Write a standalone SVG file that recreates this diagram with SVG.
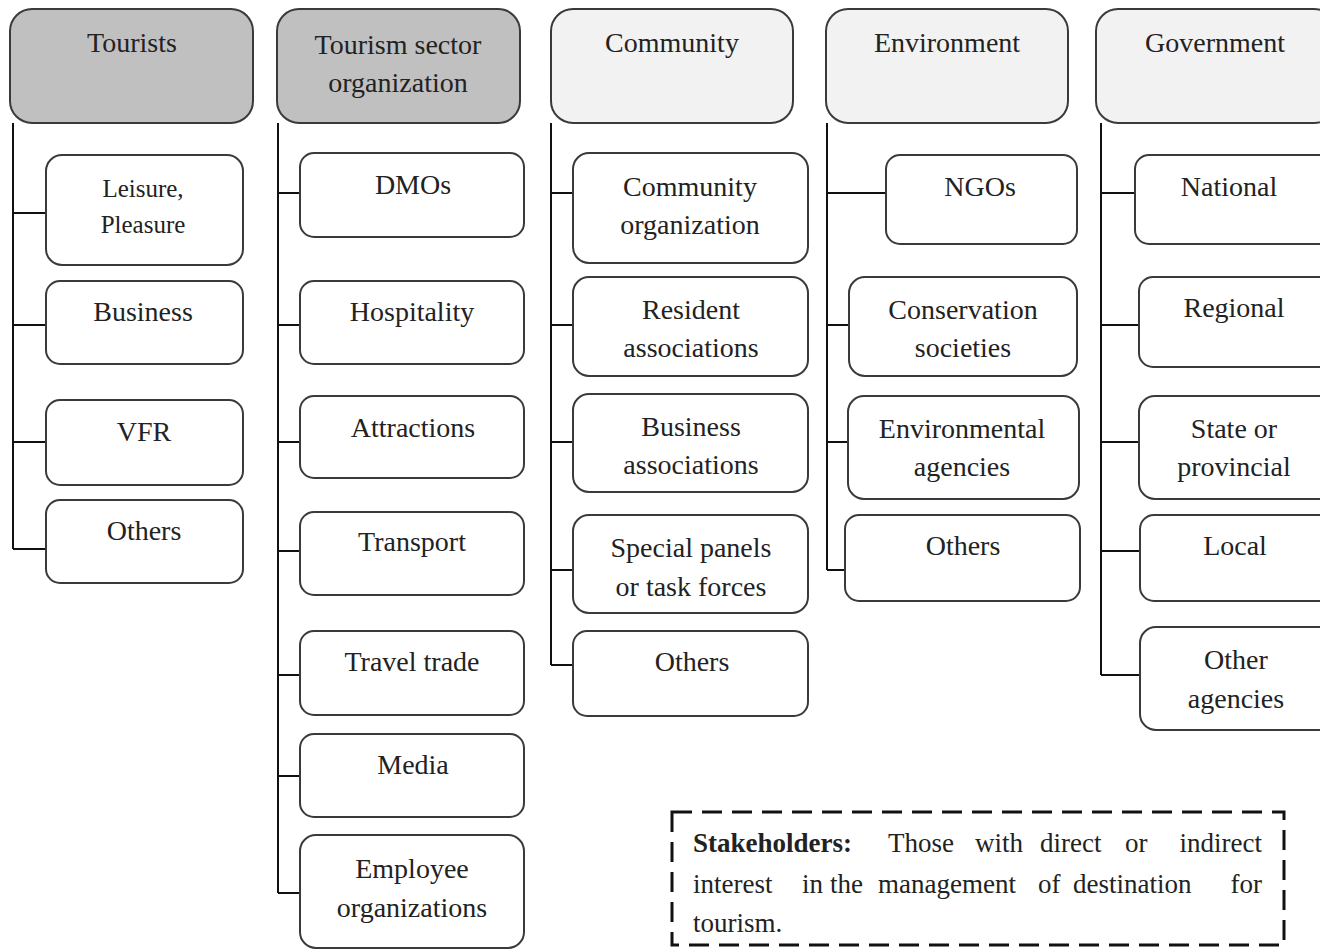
<svg xmlns="http://www.w3.org/2000/svg" width="1320" height="951" viewBox="0 0 1320 951">
<style>
.hd1{fill:#c0c0c0;stroke:#3a3a3a;stroke-width:2}
.hd2{fill:#f2f2f2;stroke:#3a3a3a;stroke-width:2}
.bx{fill:#ffffff;stroke:#3a3a3a;stroke-width:2}
.t{font-family:'Liberation Serif','Times New Roman',serif;font-size:28px;fill:#222;text-anchor:middle}
.ts{font-size:25px}
.lg{font-family:'Liberation Serif','Times New Roman',serif;font-size:27px;fill:#222}
.cn{fill:none;stroke:#111;stroke-width:2}
</style>
<rect x="0" y="0" width="1320" height="951" fill="#ffffff"/>
<g id="connectors" class="cn">
<path d="M13,123 V549 M13,213 H46 M13,325 H46 M13,442 H46 M13,549 H46"/>
<path d="M278,123 V893 M278,193 H300 M278,325 H300 M278,442 H300 M278,551 H300 M278,675 H300 M278,776 H300 M278,893 H300"/>
<path d="M551,123 V665 M551,193 H573 M551,325 H573 M551,442 H573 M551,570 H573 M551,665 H573"/>
<path d="M827,123 V570 M827,193 H886 M827,325 H849 M827,442 H848 M827,570 H845"/>
<path d="M1101,123 V675 M1101,193 H1135 M1101,325 H1139 M1101,442 H1139 M1101,551 H1140 M1101,675 H1140"/>
</g>
<g id="n-tourists"><rect class="hd1" x="10" y="9" width="243" height="114" rx="22"/><text class="t" x="132" y="52">Tourists</text></g>
<g id="n-tso"><rect class="hd1" x="277" y="9" width="243" height="114" rx="22"/><text class="t" x="398" y="54">Tourism sector</text><text class="t" x="398" y="92">organization</text></g>
<g id="n-community"><rect class="hd2" x="551" y="9" width="242" height="114" rx="22"/><text class="t" x="672" y="52">Community</text></g>
<g id="n-environment"><rect class="hd2" x="826" y="9" width="242" height="114" rx="22"/><text class="t" x="947" y="52">Environment</text></g>
<g id="n-government"><rect class="hd2" x="1096" y="9" width="240" height="114" rx="22"/><text class="t" x="1215" y="52">Government</text></g>

<g id="n-leisure"><rect class="bx" x="46" y="155" width="197" height="110" rx="16"/><text class="t ts" x="143" y="197">Leisure,</text><text class="t ts" x="143" y="233">Pleasure</text></g>
<g id="n-business"><rect class="bx" x="46" y="281" width="197" height="83" rx="14"/><text class="t" x="143" y="321">Business</text></g>
<g id="n-vfr"><rect class="bx" x="46" y="400" width="197" height="85" rx="14"/><text class="t" x="144" y="441">VFR</text></g>
<g id="n-t-others"><rect class="bx" x="46" y="500" width="197" height="83" rx="14"/><text class="t" x="144" y="540">Others</text></g>

<g id="n-dmos"><rect class="bx" x="300" y="153" width="224" height="84" rx="14"/><text class="t" x="413" y="194">DMOs</text></g>
<g id="n-hospitality"><rect class="bx" x="300" y="281" width="224" height="83" rx="14"/><text class="t" x="412" y="321">Hospitality</text></g>
<g id="n-attractions"><rect class="bx" x="300" y="396" width="224" height="82" rx="14"/><text class="t" x="413" y="437">Attractions</text></g>
<g id="n-transport"><rect class="bx" x="300" y="512" width="224" height="83" rx="14"/><text class="t" x="412" y="551">Transport</text></g>
<g id="n-traveltrade"><rect class="bx" x="300" y="631" width="224" height="84" rx="14"/><text class="t" x="412" y="671">Travel trade</text></g>
<g id="n-media"><rect class="bx" x="300" y="734" width="224" height="83" rx="14"/><text class="t" x="413" y="774">Media</text></g>
<g id="n-employee"><rect class="bx" x="300" y="835" width="224" height="113" rx="16"/><text class="t" x="412" y="878">Employee</text><text class="t" x="412" y="917">organizations</text></g>

<g id="n-commorg"><rect class="bx" x="573" y="153" width="235" height="110" rx="16"/><text class="t" x="690" y="196">Community</text><text class="t" x="690" y="234">organization</text></g>
<g id="n-resident"><rect class="bx" x="573" y="277" width="235" height="99" rx="16"/><text class="t" x="691" y="319">Resident</text><text class="t" x="691" y="357">associations</text></g>
<g id="n-busassoc"><rect class="bx" x="573" y="394" width="235" height="98" rx="16"/><text class="t" x="691" y="436">Business</text><text class="t" x="691" y="474">associations</text></g>
<g id="n-special"><rect class="bx" x="573" y="515" width="235" height="98" rx="16"/><text class="t" x="691" y="557">Special panels</text><text class="t" x="691" y="596">or task forces</text></g>
<g id="n-c-others"><rect class="bx" x="573" y="631" width="235" height="85" rx="14"/><text class="t" x="692" y="671">Others</text></g>

<g id="n-ngos"><rect class="bx" x="886" y="155" width="191" height="89" rx="14"/><text class="t" x="980" y="196">NGOs</text></g>
<g id="n-conservation"><rect class="bx" x="849" y="277" width="228" height="99" rx="16"/><text class="t" x="963" y="319">Conservation</text><text class="t" x="963" y="357">societies</text></g>
<g id="n-envagencies"><rect class="bx" x="848" y="396" width="231" height="103" rx="16"/><text class="t" x="962" y="438">Environmental</text><text class="t" x="962" y="476">agencies</text></g>
<g id="n-e-others"><rect class="bx" x="845" y="515" width="235" height="86" rx="14"/><text class="t" x="963" y="555">Others</text></g>

<g id="n-national"><rect class="bx" x="1135" y="155" width="200" height="89" rx="14"/><text class="t" x="1229" y="196">National</text></g>
<g id="n-regional"><rect class="bx" x="1139" y="277" width="196" height="90" rx="14"/><text class="t" x="1234" y="317">Regional</text></g>
<g id="n-state"><rect class="bx" x="1139" y="396" width="196" height="103" rx="16"/><text class="t" x="1234" y="438">State or</text><text class="t" x="1234" y="476">provincial</text></g>
<g id="n-local"><rect class="bx" x="1140" y="515" width="195" height="86" rx="14"/><text class="t" x="1235" y="555">Local</text></g>
<g id="n-otheragencies"><rect class="bx" x="1140" y="627" width="195" height="103" rx="16"/><text class="t" x="1236" y="669">Other</text><text class="t" x="1236" y="708">agencies</text></g>

<g id="legend">
<rect x="672" y="812" width="612" height="133" fill="#ffffff" stroke="#111" stroke-width="3" stroke-dasharray="20,10"/>
<text class="lg" y="852"><tspan x="693" font-weight="bold">Stakeholders:</tspan><tspan x="888">Those</tspan><tspan x="975">with</tspan><tspan x="1040">direct</tspan><tspan x="1125">or</tspan><tspan x="1262" text-anchor="end">indirect</tspan></text>
<text class="lg" y="893"><tspan x="693">interest</tspan><tspan x="802">in</tspan><tspan x="830">the</tspan><tspan x="878">management</tspan><tspan x="1038">of</tspan><tspan x="1073">destination</tspan><tspan x="1262" text-anchor="end">for</tspan></text>
<text class="lg" x="693" y="932">tourism.</text>
</g>
</svg>
